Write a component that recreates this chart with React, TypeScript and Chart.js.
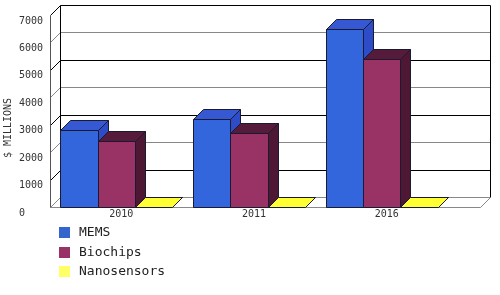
import React, { useEffect, useRef } from "react";
import { Chart, registerables } from "chart.js";

Chart.register(...registerables);

const categories = ["2010", "2011", "2016"];
const seriesNames = ["MEMS", "Biochips", "Nanosensors"];
const memsValues = [2800, 3200, 6500];
const biochipsValues = [2400, 2700, 5400];
const nanosensorsValues = [5, 10, 15];
const yTicks = [0, 1000, 2000, 3000, 4000, 5000, 6000, 7000];
const yTitle = "$ MILLIONS";

const frontColors = ["#3366DD", "#993366", "#FFFF33"];
const topColors = ["#3758D3", "#561B3A", "#FFFF33"];
const sideColors = ["#2F4CC8", "#4E1733", "#E0E020"];
const legendColors = ["#3366CC", "#993366", "#FFFF66"];

const DEPTH = 10;
const EXTRA_RIGHT = 32;
const MONO = "'DejaVu Sans Mono', 'Liberation Mono', monospace";

const threeD = {
  id: "threeD",
  beforeDatasetsDraw(chart: any) {
    const { ctx, chartArea, scales } = chart;
    const y = scales.y;
    const L = Math.round(chartArea.left);
    const R = Math.round(chartArea.right) + EXTRA_RIGHT;
    const T = Math.round(y.getPixelForValue(yTicks[yTicks.length - 1]));
    const B = Math.round(y.getPixelForValue(0));
    const D = DEPTH;
    ctx.save();
    ctx.lineWidth = 1;
    const line = (x1: number, y1: number, x2: number, y2: number, c: string) => {
      ctx.strokeStyle = c;
      ctx.beginPath();
      ctx.moveTo(x1 + 0.5, y1 + 0.5);
      ctx.lineTo(x2 + 0.5, y2 + 0.5);
      ctx.stroke();
    };
    yTicks.forEach((v) => {
      const yy = Math.round(y.getPixelForValue(v));
      const c = (v / 1000) % 2 === 1 ? "#000000" : "#888888";
      line(L + D, yy - D, R + D, yy - D, c);
      line(L, yy, L + D, yy - D, c);
    });
    line(L + D, T - D, L + D, B - D, "#000000");
    line(R + D, T - D, R + D, B - D, "#000000");
    line(L, T, L, B, "#555555");
    line(L, B, R, B, "#888888");
    line(R, B, R + D, B - D, "#888888");
    ctx.restore();
  },
  beforeDatasetDraw() {
    return false;
  },
  afterDatasetsDraw(chart: any) {
    const { ctx } = chart;
    const D = DEPTH;
    const bars: any[] = [];
    chart.data.datasets.forEach((_: any, di: number) => {
      const meta = chart.getDatasetMeta(di);
      meta.data.forEach((el: any) => {
        const p = el.getProps(["x", "y", "base", "width"], true);
        bars.push({ ...p, di });
      });
    });
    bars.sort((a, b) => a.x - b.x);
    ctx.save();
    ctx.lineWidth = 1;
    ctx.strokeStyle = "#1A1A30";
    ctx.lineJoin = "miter";
    const poly = (pts: number[][], fill: string) => {
      ctx.fillStyle = fill;
      ctx.beginPath();
      pts.forEach((p, i) => (i === 0 ? ctx.moveTo(p[0] + 0.5, p[1] + 0.5) : ctx.lineTo(p[0] + 0.5, p[1] + 0.5)));
      ctx.closePath();
      ctx.fill();
      ctx.stroke();
    };
    bars.forEach((b) => {
      const x1 = Math.round(b.x - b.width / 2);
      const x2 = Math.round(b.x + b.width / 2);
      const yt = Math.round(b.y);
      const yb = Math.round(b.base);
      poly([[x2, yt], [x2 + D, yt - D], [x2 + D, yb - D], [x2, yb]], sideColors[b.di]);
      poly([[x1, yt], [x2, yt], [x2 + D, yt - D], [x1 + D, yt - D]], topColors[b.di]);
      if (yb - yt >= 1) poly([[x1, yt], [x2, yt], [x2, yb], [x1, yb]], frontColors[b.di]);
    });
    ctx.restore();
  },
  afterDraw(chart: any) {
    const { ctx } = chart;
    ctx.save();
    ctx.translate(8, 128);
    ctx.rotate(-Math.PI / 2);
    ctx.fillStyle = "#333333";
    ctx.font = `10px ${MONO}`;
    ctx.textAlign = "center";
    ctx.textBaseline = "middle";
    ctx.fillText(yTitle, 0, 0);
    ctx.restore();
    ctx.save();
    const left = Math.round(chart.chartArea.left) + 9;
    const startY = 232;
    const step = 19.6;
    ctx.font = `13px ${MONO}`;
    ctx.textBaseline = "middle";
    ctx.textAlign = "left";
    chart.data.datasets.forEach((ds: any, i: number) => {
      const cy = Math.round(startY + i * step);
      ctx.fillStyle = legendColors[i];
      ctx.fillRect(left, cy - 5, 11, 11);
      ctx.fillStyle = "#222222";
      ctx.fillText(ds.label, left + 20, cy + 1);
    });
    ctx.restore();
  },
};

export default function App() {
  const ref = useRef<HTMLCanvasElement | null>(null);
  useEffect(() => {
    document.body.style.margin = "0";
    if (!ref.current) return;
    const chart = new Chart(ref.current, {
      type: "bar",
      data: {
        labels: categories,
        datasets: [memsValues, biochipsValues, nanosensorsValues].map((vals, i) => ({
          label: seriesNames[i],
          data: vals,
          backgroundColor: frontColors[i],
          borderWidth: 0,
          barPercentage: 1,
          categoryPercentage: 0.845,
        })),
      },
      options: {
        responsive: false,
        animation: false,
        events: [],
        layout: { padding: { left: 19, right: 52, top: 15, bottom: 0 } },
        plugins: { legend: { display: false }, tooltip: { enabled: false } },
        scales: {
          x: {
            grid: { display: false, drawTicks: false },
            border: { display: false },
            ticks: { color: "#333333", font: { family: MONO, size: 10 }, padding: 1, labelOffset: 5 },
            afterFit: (s: any) => {
              s.height = 88;
            },
          },
          y: {
            min: 0,
            max: 7000,
            grid: { display: false, drawTicks: false },
            border: { display: false },
            ticks: {
              stepSize: 1000,
              color: "#333333",
              font: { family: MONO, size: 10 },
              crossAlign: "far",
              labelOffset: 6,
              padding: 0,
              callback: (v: any) => String(v),
            },
            afterFit: (s: any) => {
              s.width = 31;
            },
          },
        },
      },
      plugins: [threeD],
    });
    return () => chart.destroy();
  }, []);
  return <canvas ref={ref} width={500} height={295} style={{ display: "block" }} />;
}
